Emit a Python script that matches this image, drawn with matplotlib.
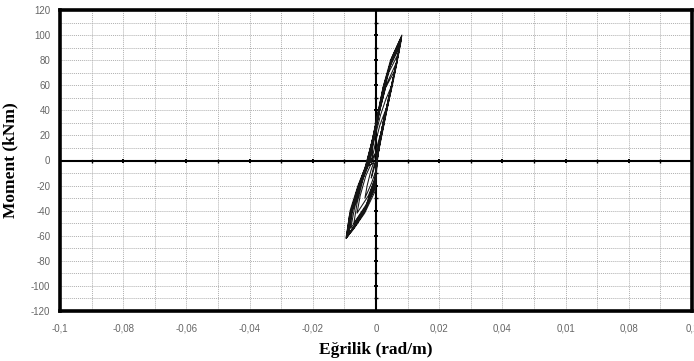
import matplotlib
matplotlib.use("Agg")
import matplotlib.pyplot as plt

# Hysteresis path (curvature rad/m, moment kNm), hand-read vertices per cycle
c1_k = [-0.0008, 0.0002, 0.0013, 0.0006, 0.0001, -0.0006, -0.0015, -0.0010, -0.0004]
c1_m = [0, 10, 20, 10, 0, -6, -14, -8, -2]
c2_k = [-0.0015, -0.0002, 0.0012, 0.0030, 0.0018, 0.0006, 0.0, -0.0014, -0.0035, -0.0028, -0.0016, -0.0008]
c2_m = [-2, 14, 28, 40, 24, 6, -8, -18, -30, -20, -8, -2]
c3_k = [-0.0022, -0.0006, 0.0014, 0.0030, 0.0050, 0.0034, 0.0016, 0.0004, -0.0002, -0.0024, -0.0060, -0.0050, -0.0032, -0.0016]
c3_m = [-4, 16, 36, 48, 60, 40, 18, 2, -14, -28, -42, -28, -12, -3]
c4_k = [-0.0026, -0.0008, 0.0012, 0.0032, 0.0068, 0.0052, 0.0030, 0.0012, 0.0003, -0.0002, -0.0030, -0.0080, -0.0068, -0.0046, -0.0030]
c4_m = [-4, 18, 40, 60, 80, 60, 36, 14, 0, -18, -36, -54, -38, -18, -6]
c5_k = [-0.0030, -0.0010, 0.0008, 0.0024, 0.0046, 0.0082, 0.0070, 0.0050, 0.0030, 0.0012, 0.0004, 0.0, -0.0003,
        -0.0035, -0.0070, -0.0094, -0.0082, -0.0057, -0.0035]
c5_m = [-4, 18, 40, 60, 80, 100, 84, 60, 38, 18, 2, -10, -20, -40, -54, -62, -40, -20, -6]
c6_k = [-0.0032, -0.0012, 0.0006, 0.0022, 0.0044, 0.0076, 0.0064, 0.0046, 0.0026, 0.0010, 0.0002, -0.0002,
        -0.0032, -0.0066, -0.0090, -0.0078, -0.0054, -0.0032]
c6_m = [-4, 16, 38, 58, 76, 92, 76, 56, 34, 14, 0, -16, -38, -52, -60, -40, -20, -6]
c7_k = [-0.0030, -0.0012, 0.0004, 0.0020, 0.0042, 0.0080, 0.0068, 0.0048, 0.0028, 0.0014, 0.0004, -0.0001,
        -0.0034, -0.0068, -0.0092, -0.0080, -0.0055, -0.0030, -0.0012]
c7_m = [-6, 14, 34, 54, 74, 96, 80, 58, 36, 20, 4, -12, -38, -52, -61, -42, -22, -6, 2]
c8_k = [-0.0012, 0.0006, 0.0024, 0.0040, 0.0072, 0.0060, 0.0042, 0.0022, 0.0008, 0.0001, -0.0003,
        -0.0036, -0.0064, -0.0086, -0.0074, -0.0050, -0.0026, 0.0]
c8_m = [12, 34, 54, 70, 86, 72, 52, 30, 10, -4, -22, -40, -52, -58, -40, -20, -4, 6]
c9_k = [-0.0028, -0.0008, 0.0010, 0.0026, 0.0048, 0.0079, 0.0068, 0.0049, 0.0031, 0.0015, 0.0005, 0.0001, -0.0004,
        -0.0038, -0.0072, -0.0093, -0.0081, -0.0058, -0.0036]
c9_m = [-5, 17, 38, 58, 78, 97, 82, 60, 38, 18, 2, -8, -22, -40, -54, -61, -42, -22, -7]
c10_k = [-0.0034, -0.0014, 0.0006, 0.0022, 0.0042, 0.0074, 0.0062, 0.0044, 0.0026, 0.0010, 0.0002, -0.0004,
         -0.0034, -0.0064, -0.0088, -0.0076, -0.0052, -0.0030]
c10_m = [-5, 14, 36, 56, 74, 90, 74, 54, 34, 14, 0, -18, -38, -50, -59, -40, -20, -4]
c11_k = [-0.0024, -0.0006, 0.0012, 0.0030, 0.0060, 0.0046, 0.0028, 0.0012, 0.0003, -0.0002, -0.0028, -0.0070,
         -0.0060, -0.0040, -0.0024]
c11_m = [-4, 18, 40, 58, 72, 54, 32, 12, 0, -16, -34, -50, -34, -14, -4]
c12_k = [-0.0026, -0.0006, 0.0012, 0.0028, 0.0050, 0.0081, 0.0071, 0.0052, 0.0033, 0.0016, 0.0006, 0.0002, -0.0002,
         -0.0036, -0.0072, -0.0095, -0.0084, -0.0060, -0.0038, -0.0016]
c12_m = [-3, 20, 42, 62, 82, 99, 86, 62, 40, 20, 4, -8, -24, -42, -55, -62, -44, -24, -8, 0]

curvature = c1_k + c2_k + c3_k + c4_k + c5_k + c6_k + c7_k + c8_k + c9_k + c10_k + c11_k + c12_k
moment = c1_m + c2_m + c3_m + c4_m + c5_m + c6_m + c7_m + c8_m + c9_m + c10_m + c11_m + c12_m

x_ticks = [-0.1, -0.08, -0.06, -0.04, -0.02, 0, 0.02, 0.04, 0.06, 0.08, 0.1]
x_tick_labels = ["-0,1", "-0,08", "-0,06", "-0,04", "-0,02", "0", "0,02", "0,04", "0,01", "0,08", "0,1"]
x_minor = [-0.09, -0.07, -0.05, -0.03, -0.01, 0.01, 0.03, 0.05, 0.07, 0.09]
y_ticks = [-120, -100, -80, -60, -40, -20, 0, 20, 40, 60, 80, 100, 120]
y_tick_labels = ["-120", "-100", "-80", "-60", "-40", "-20", "0", "20", "40", "60", "80", "100", "120"]
y_minor = [-110, -90, -70, -50, -30, -10, 10, 30, 50, 70, 90, 110]

fig = plt.figure(figsize=(6.94, 3.61), dpi=100)
ax = fig.add_axes([60/694, 50/361, 632/694, 301/361])

ax.set_xlim(-0.1, 0.1)
ax.set_ylim(-120, 120)
ax.set_xticks(x_ticks)
ax.set_xticklabels(x_tick_labels, fontfamily="Liberation Sans", fontsize=7, color="#666666")
ax.set_xticks(x_minor, minor=True)
ax.set_yticks(y_ticks)
ax.set_yticklabels(y_tick_labels, fontfamily="Liberation Sans", fontsize=7, color="#666666")
ax.set_yticks(y_minor, minor=True)
ax.tick_params(which="both", length=0)
ax.tick_params(axis="x", pad=9)
ax.tick_params(axis="y", pad=7)

ax.grid(True, which="both", color="#b0b0b0", linestyle=(0, (1, 1)), linewidth=0.7)
ax.set_axisbelow(True)

for s in ax.spines.values():
    s.set_linewidth(2.6)
    s.set_color("black")

ax.axhline(0, color="black", linewidth=1.5, zorder=2)
ax.axvline(0, color="black", linewidth=1.5, zorder=2)
# small tick marks on the central axes
ax.plot(x_ticks, [0]*len(x_ticks), linestyle="none", marker="|", markersize=3.5, mew=1.4, color="black", zorder=2)
ax.plot(x_minor, [0]*len(x_minor), linestyle="none", marker="|", markersize=2.5, mew=1.0, color="black", zorder=2)
ax.plot([0]*len(y_ticks), y_ticks, linestyle="none", marker="_", markersize=3.5, mew=1.4, color="black", zorder=2)
ax.plot([0]*len(y_minor), y_minor, linestyle="none", marker="_", markersize=2.5, mew=1.0, color="black", zorder=2)

ax.plot(curvature, moment, color="#151515", linewidth=0.75, zorder=3)

ax.set_xlabel("Eğrilik (rad/m)", fontfamily="Liberation Serif", fontweight="bold", fontsize=12.5, labelpad=6)
ax.set_ylabel("Moment (kNm)", fontfamily="Liberation Serif", fontweight="bold", fontsize=12.5, labelpad=9)

fig.savefig("out.png", dpi=100)
